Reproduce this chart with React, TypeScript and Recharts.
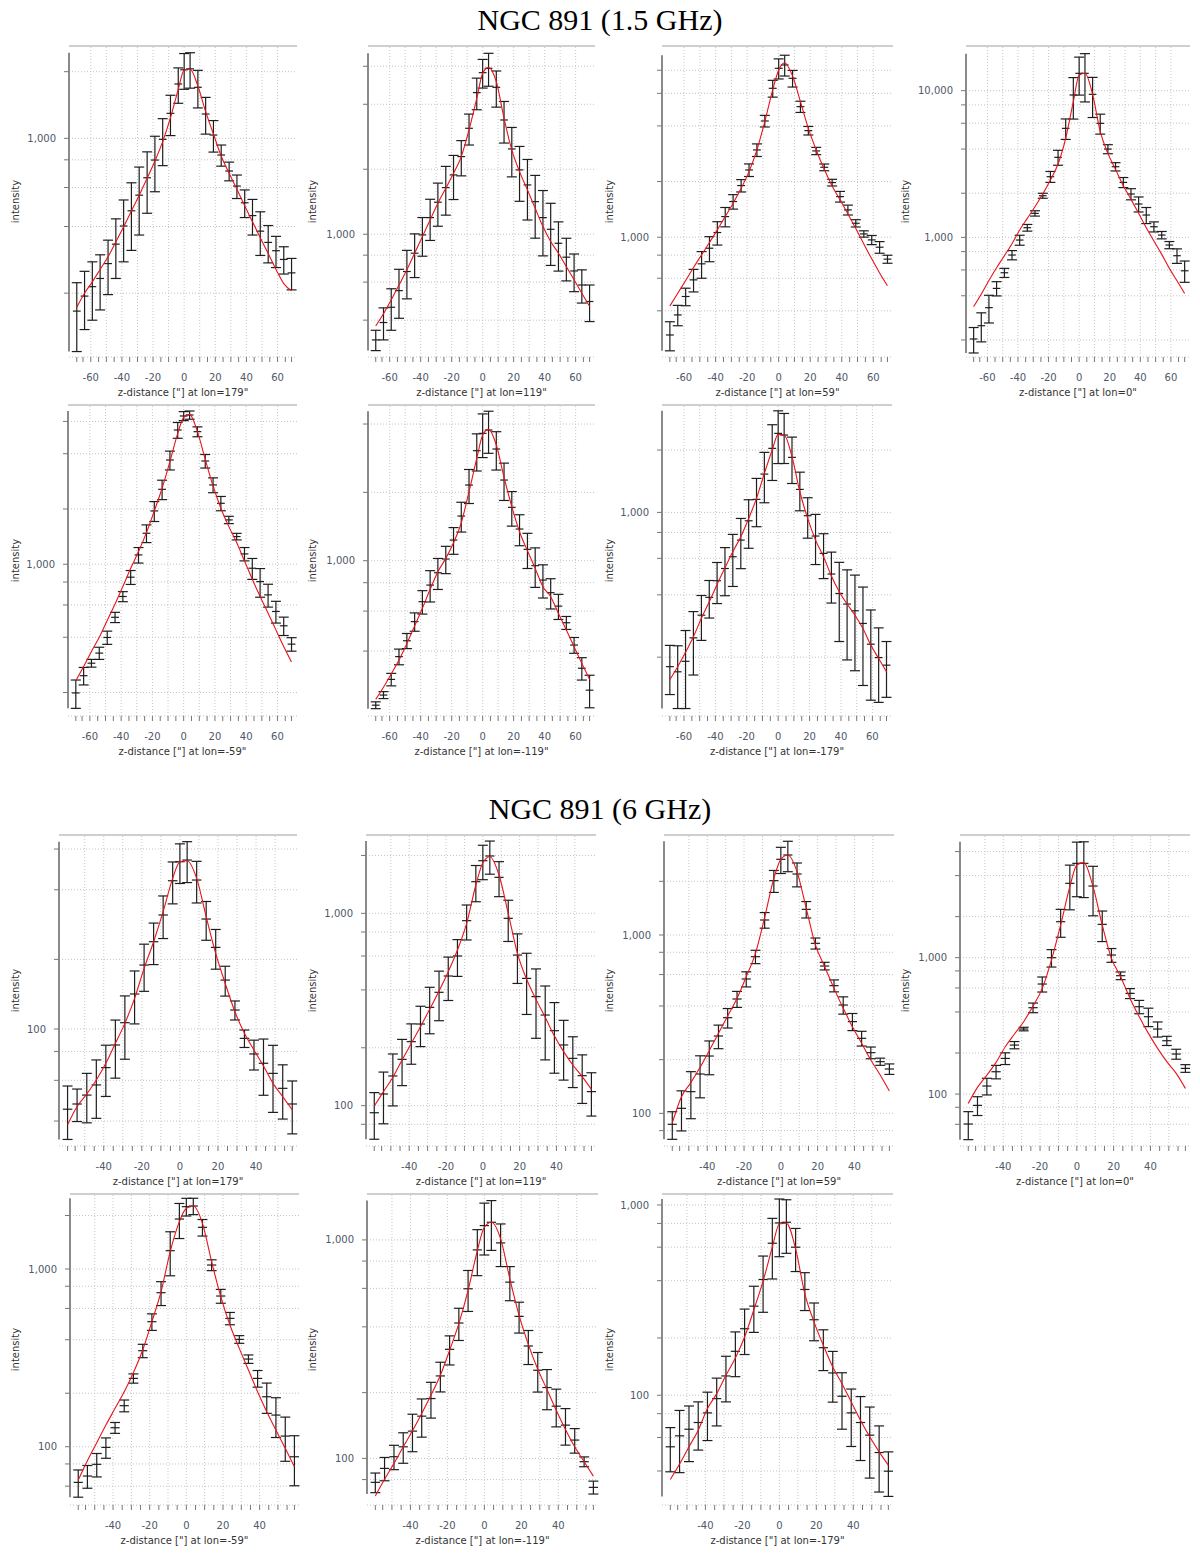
import React from "react";
import {
  ComposedChart,
  Scatter,
  Line,
  XAxis,
  YAxis,
  CartesianGrid,
  ErrorBar,
  ReferenceLine,
} from "recharts";

const FONT = "DejaVu Sans, sans-serif";

// bin centres along z (arcsec)
const Z_L = [-69, -64, -59, -54, -48.9, -43.9, -38.9, -33.9, -28.9, -23.8, -18.8, -13.8, -8.8, -3.8, 0, 3.8, 8.8, 13.8, 18.8, 23.8, 28.9, 33.9, 38.9, 43.9, 48.9, 54, 59, 64, 69];
const Z_C = [-59, -54, -48.9, -43.9, -38.9, -33.9, -28.9, -23.8, -18.8, -13.8, -8.8, -3.8, 0, 3.8, 8.8, 13.8, 18.8, 23.8, 28.9, 33.9, 38.9, 43.9, 48.9, 54, 59];
const HALF_BIN = 2.5;

// ---- 1.5 GHz ----
const L179_I = [166, 194, 214, 233, 272, 333, 402, 471, 554, 664, 798, 990, 1297, 1760, 2040, 2060, 1700, 1288, 1035, 841, 712, 609, 512, 448, 381, 339, 311, 284, 247];
const L179_E = [57, 57, 63, 65, 75, 100, 125, 159, 188, 205, 224, 237, 268, 320, 375, 375, 328, 243, 168, 92, 69, 74, 73, 82, 85, 65, 50, 40, 40];
const L179_FIT = [173, 200, 225, 256, 292, 341, 399, 470, 554, 660, 790, 966, 1240, 1665, 2036, 2051, 1723, 1320, 1046, 832, 695, 589, 496, 420, 356, 302, 256, 221, 205];

const L119_I = [324, 390, 459, 548, 672, 817, 993, 1194, 1407, 1644, 1883, 2289, 3096, 4529, 5604, 5868, 4792, 3383, 2484, 1986, 1692, 1416, 1194, 1054, 908, 783, 676, 582, 488];
const L119_E = [35, 66, 100, 140, 170, 187, 202, 258, 318, 418, 435, 425, 506, 756, 850, 1020, 912, 738, 640, 565, 528, 457, 400, 337, 233, 175, 134, 102, 94];
const L119_FIT = [376, 428, 497, 582, 684, 817, 975, 1165, 1392, 1633, 1916, 2289, 3041, 4264, 5564, 5932, 5091, 3443, 2457, 1950, 1605, 1319, 1085, 925, 817, 708, 615, 533, 463];

const L59_I = [296, 380, 478, 588, 718, 872, 1060, 1293, 1559, 1903, 2311, 2965, 4254, 6389, 8196, 8544, 7236, 5084, 3772, 2929, 2389, 1975, 1659, 1405, 1190, 1042, 967, 883, 761];
const L59_E = [53, 48, 52, 82, 118, 135, 153, 155, 140, 146, 181, 232, 307, 665, 1020, 1100, 746, 354, 200, 133, 100, 82, 110, 86, 54, 41, 55, 64, 38];
const L59_FIT = [425, 498, 583, 686, 803, 936, 1096, 1293, 1527, 1840, 2264, 2965, 4220, 6258, 8026, 8790, 7450, 5410, 3882, 2965, 2332, 1895, 1592, 1337, 1114, 920, 764, 641, 546];

const L0_I = [203, 250, 332, 449, 574, 758, 959, 1164, 1458, 1923, 2592, 3512, 5535, 9343, 13130, 13130, 9441, 5986, 4000, 3033, 2371, 1975, 1688, 1420, 1182, 1037, 887, 750, 592];
const L0_E = [40, 56, 71, 50, 41, 55, 75, 61, 61, 75, 222, 410, 883, 2940, 3800, 4750, 2880, 930, 283, 197, 187, 172, 198, 178, 93, 60, 50, 85, 98];
const L0_FIT = [337, 411, 509, 621, 750, 906, 1122, 1348, 1618, 1975, 2460, 3162, 4732, 8414, 12790, 13130, 9441, 5254, 3738, 2908, 2251, 1816, 1458, 1164, 944, 766, 615, 506, 415];

const LM59_I = [199, 247, 289, 328, 399, 514, 667, 850, 1124, 1475, 1952, 2559, 3698, 5387, 6422, 6502, 5276, 3652, 2704, 2148, 1744, 1415, 1138, 951, 804, 681, 553, 462, 367];
const LM59_E = [35, 27, 14, 25, 33, 33, 42, 74, 109, 163, 243, 310, 435, 532, 362, 335, 328, 309, 251, 192, 80, 58, 95, 124, 143, 97, 75, 53, 31];
const LM59_FIT = [232, 277, 335, 400, 494, 608, 756, 951, 1172, 1487, 1952, 2594, 3622, 5167, 6310, 6557, 5276, 3729, 2670, 2018, 1603, 1312, 1042, 829, 667, 541, 439, 356, 293];

const LM119_I = [231, 256, 300, 378, 444, 539, 660, 781, 885, 1017, 1233, 1573, 2154, 3052, 3639, 3763, 3104, 2266, 1718, 1379, 1122, 951, 822, 723, 631, 533, 425, 336, 269];
const LM119_E = [8, 9, 19, 30, 34, 50, 78, 123, 138, 140, 166, 236, 368, 568, 793, 791, 596, 424, 298, 215, 198, 188, 137, 110, 80, 35, 34, 38, 44];
const LM119_FIT = [245, 277, 317, 365, 432, 516, 617, 748, 894, 1024, 1200, 1470, 2014, 2824, 3577, 3789, 3232, 2329, 1730, 1342, 1107, 925, 768, 694, 586, 495, 418, 353, 300];

const LM179_I = [180, 170, 191, 248, 319, 389, 468, 536, 611, 735, 911, 1156, 1531, 2038, 2407, 2363, 1844, 1291, 964, 769, 634, 504, 406, 361, 335, 291, 231, 199, 183];
const LM179_E = [48, 57, 78, 84, 78, 80, 105, 140, 172, 200, 240, 303, 418, 612, 686, 641, 465, 273, 213, 209, 155, 139, 168, 167, 163, 145, 107, 78, 55];
const LM179_FIT = [156, 180, 211, 251, 308, 370, 449, 540, 646, 763, 935, 1168, 1543, 2001, 2381, 2363, 1858, 1258, 935, 735, 611, 493, 414, 361, 319, 275, 229, 197, 170];

// ---- 6 GHz ----
const C179_I = [45, 47.4, 51.8, 57.3, 68.1, 85.3, 106.5, 141.7, 189.1, 238.5, 311.1, 437.6, 528.8, 537.7, 440.7, 298.9, 225.4, 162.8, 120.8, 91.1, 78, 71.1, 64.3, 55.4, 47.4];
const C179_E = [11.7, 7.6, 12.5, 16.2, 17, 24, 32.5, 36.5, 43.6, 48.6, 65, 90, 103, 108, 90, 57, 44, 24, 11.4, 7.9, 11.5, 19.4, 20.7, 14.6, 12.2];
const C179_FIT = [38.5, 46.2, 52.4, 60.2, 71.1, 86.7, 105.8, 135.7, 182.9, 238.5, 321.6, 448, 528.8, 534.2, 448, 305.9, 212.4, 157.5, 118.8, 95.8, 81.1, 69.2, 58.2, 51, 44.7];

const C119_I = [91.9, 115, 142.7, 174.1, 215.2, 265.8, 324.5, 388.5, 472.3, 600.1, 916.1, 1461, 1878, 1987, 1539, 942, 607, 459, 369, 296, 245.5, 206.8, 176.2, 143.2, 118.3];
const C119_E = [25, 34.5, 43, 47, 51, 63, 88, 112, 120, 130, 189, 312, 382, 389, 318, 228, 175, 161, 145, 123, 98, 71, 52, 40.5, 30];
const C119_FIT = [99.6, 118.3, 140.4, 172.7, 210.9, 257.4, 316.9, 394.7, 497.4, 644.7, 887, 1404, 1834, 1971, 1582, 1000, 619, 454, 357, 288, 230.2, 190.9, 162.7, 141.6, 121.6];

const C59_I = [86.8, 106.7, 132.3, 166.2, 209.6, 271.4, 343.9, 437.7, 566.6, 755.9, 1214, 2017, 2657, 2809, 2198, 1393, 898, 670, 520, 405, 327, 263.4, 218.9, 194.9, 177.3];
const C59_E = [15.3, 27, 39, 44, 45, 41, 43, 45, 55, 65, 122, 284, 445, 545, 336, 147, 64, 33, 40, 45, 36, 25, 16.5, 9, 12];
const C59_FIT = [88.3, 124, 148.6, 181.1, 224.5, 280.9, 351.4, 441.5, 584, 789.2, 1256, 2078, 2657, 2809, 2265, 1411, 879, 665, 502, 388, 306, 247, 199.1, 164.1, 133.4];

const C0_I = [60.3, 82.6, 114.5, 145.8, 182.6, 228.7, 299.8, 429.9, 641, 1000, 1837, 3510, 4920, 4920, 3354, 1756, 1046, 738, 547.4, 437.2, 369.2, 299.8, 246.1, 196.6, 154.3];
const C0_E = [14, 13, 16, 16.5, 18, 14, 9, 35, 81, 146, 425, 1265, 2120, 2160, 1325, 443, 121, 48, 46, 49, 57, 38, 19, 16.5, 10];
const C0_FIT = [85.4, 111.9, 137.8, 170.8, 222.4, 275.5, 339.4, 442.1, 595.9, 961, 1737, 3317, 4783, 4976, 3317, 1737, 989, 725.5, 503, 369.2, 278.6, 216.3, 172.7, 141.8, 110];

const CM59_I = [63, 68.4, 79.6, 99.1, 127.9, 170.2, 242.4, 347, 505.3, 735.8, 1268, 1911, 2243, 2262, 1716, 1053, 704.7, 527.6, 401.8, 311.4, 242.4, 191.1, 150.7, 114.8, 87.8];
const CM59_E = [11, 10, 12, 13, 9, 13, 14.5, 30, 54, 113, 352, 427, 256, 239, 183, 74, 63, 42, 20, 17, 26, 37, 38, 32, 27.5];
const CM59_FIT = [64.9, 83.4, 105.3, 132.4, 164.4, 204, 261, 350, 505.3, 745, 1252, 1847, 2196, 2262, 1807, 1100, 698.6, 484, 357.7, 270.1, 204, 157.4, 124.1, 97.9, 77.2];

const CM119_I = [77.7, 90, 101.8, 113, 133.3, 156.1, 187.9, 238.5, 315.7, 416.5, 597.5, 900, 1163, 1204, 969, 640.8, 446.6, 326.9, 253.2, 211, 173.4, 142, 121.3, 96.6, 73.7];
const CM119_E = [8, 11, 13, 18, 26, 31, 35, 37, 48, 70, 127, 214, 310, 309, 214, 114, 72, 58, 52, 44, 34, 27, 15.6, 5, 5];
const CM119_FIT = [67.3, 80.2, 94.9, 113, 133.8, 160.6, 194.6, 240.2, 312.4, 413.5, 587.1, 894, 1142, 1204, 1011, 663.6, 451.4, 332.7, 255.8, 206.6, 166.2, 135.7, 113, 96.6, 83];

const CM179_I = [53.6, 61.2, 66.3, 71.9, 80.8, 96, 126.3, 170.2, 223.7, 294, 405.9, 629.4, 804.7, 811.1, 599.8, 359.7, 249.4, 177.8, 131, 98.8, 80.8, 71.9, 61.7, 50, 39.9];
const CM179_E = [14, 22, 21.5, 20.4, 23, 27, 34, 45, 60, 80, 133, 221, 270, 254, 153, 81, 56, 43, 39, 32.5, 27, 26.5, 25, 19, 10.5];
const CM179_FIT = [36.1, 43.5, 53.6, 65.5, 85.1, 102, 127.3, 157, 202.3, 281.3, 397.9, 599.8, 795, 801.4, 587.9, 341.4, 242.4, 182.9, 140.8, 115.1, 92.3, 73.9, 60.5, 50.4, 42.9];

// axis ticks
const X_TICKS_L = [-69, -65, -60, -55, -50, -45, -40, -35, -30, -25, -20, -15, -10, -5, 0, 5, 10, 15, 20, 25, 30, 35, 40, 45, 50, 55, 60, 65, 69];
const X_TICKS_C = [-59, -55, -50, -45, -40, -35, -30, -25, -20, -15, -10, -5, 0, 5, 10, 15, 20, 25, 30, 35, 40, 45, 50, 55, 59];
const X_GRID_L = [-60, -50, -40, -30, -20, -10, 0, 10, 20, 30, 40, 50, 60];
const X_GRID_C = [-50, -40, -30, -20, -10, 0, 10, 20, 30, 40, 50];
const LOG_MANTISSA = [1, 2, 4, 6, 8];
const DECADES = [10, 100, 1000, 10000];

const BANDS = {
  L: { z: Z_L, domain: [-74, 72.5], ticks: X_TICKS_L, grid: X_GRID_L },
  C: { z: Z_C, domain: [-63.5, 61.5], ticks: X_TICKS_C, grid: X_GRID_C },
};

const COL_LEFT = [0, 297, 594, 890];
const PLOT_H = 311;
const XAXIS_H = 44;

type Panel = {
  band: "L" | "C";
  lon: string;
  v: number[];
  e: number[];
  fit: number[];
  yDom: [number, number];
  col: number;
  top: number;
  axis: number;
  right: number;
};

const PANELS: Panel[] = [
  { band: "L", lon: '179"', v: L179_I, e: L179_E, fit: L179_FIT, yDom: [103, 2612], col: 0, top: 46, axis: 69, right: 297 },
  { band: "L", lon: '119"', v: L119_I, e: L119_E, fit: L119_FIT, yDom: [270, 7447], col: 1, top: 46, axis: 368, right: 595 },
  { band: "L", lon: '59"', v: L59_I, e: L59_E, fit: L59_FIT, yDom: [225, 10820], col: 2, top: 46, axis: 662, right: 893 },
  { band: "L", lon: '0"', v: L0_I, e: L0_E, fit: L0_FIT, yDom: [153, 20160], col: 3, top: 46, axis: 966, right: 1190 },
  { band: "L", lon: '-59"', v: LM59_I, e: LM59_E, fit: LM59_FIT, yDom: [149, 7371], col: 0, top: 405, axis: 68, right: 297 },
  { band: "L", lon: '-119"', v: LM119_I, e: LM119_E, fit: LM119_FIT, yDom: [207, 4851], col: 1, top: 405, axis: 368, right: 595 },
  { band: "L", lon: '-179"', v: LM179_I, e: LM179_E, fit: LM179_FIT, yDom: [104, 3300], col: 2, top: 405, axis: 662, right: 892 },
  { band: "C", lon: '179"', v: C179_I, e: C179_E, fit: C179_FIT, yDom: [31.2, 690], col: 0, top: 835, axis: 59, right: 297 },
  { band: "C", lon: '119"', v: C119_I, e: C119_E, fit: C119_FIT, yDom: [61.7, 2555], col: 1, top: 835, axis: 366, right: 596 },
  { band: "C", lon: '59"', v: C59_I, e: C59_E, fit: C59_FIT, yDom: [65.6, 3637], col: 2, top: 835, axis: 664, right: 894 },
  { band: "C", lon: '0"', v: C0_I, e: C0_E, fit: C0_FIT, yDom: [41.6, 7940], col: 3, top: 835, axis: 960, right: 1190 },
  { band: "C", lon: '-59"', v: CM59_I, e: CM59_E, fit: CM59_FIT, yDom: [47, 2643], col: 0, top: 1194, axis: 70, right: 299 },
  { band: "C", lon: '-119"', v: CM119_I, e: CM119_E, fit: CM119_FIT, yDom: [61.2, 1622], col: 1, top: 1194, axis: 367, right: 598 },
  { band: "C", lon: '-179"', v: CM179_I, e: CM179_E, fit: CM179_FIT, yDom: [26.5, 1142], col: 2, top: 1194, axis: 662, right: 893 },
];

function yTitle(props: any) {
  const vb = props.viewBox || { x: 0, y: 0, height: 0 };
  const x = vb.x + 15;
  const y = vb.y + vb.height / 2;
  return (
    <text
      x={x}
      y={y}
      transform={`rotate(-90 ${x} ${y})`}
      textAnchor="middle"
      dominantBaseline="central"
      fontSize={10}
      fontFamily={FONT}
      fill="#333"
    >
      intensity
    </text>
  );
}

function ProfilePanel({ p }: { p: Panel }) {
  const band = BANDS[p.band];
  const rows = band.z.map((z, i) => ({ z, v: p.v[i], e: p.e[i], xe: HALF_BIN, fit: p.fit[i] }));
  const lo = Math.min(...rows.map((r) => r.v - r.e));
  const hi = Math.max(...rows.map((r) => r.v + r.e));
  const yTicks = DECADES.flatMap((d) => LOG_MANTISSA.map((m) => m * d)).filter((t) => t >= lo && t <= hi);
  const left = COL_LEFT[p.col];
  const width = p.right - left + 2;

  return (
    <div style={{ position: "absolute", left, top: p.top - 4 }}>
      <ComposedChart
        width={width}
        height={PLOT_H + XAXIS_H + 4}
        data={rows}
        margin={{ top: 4, right: 2, bottom: 0, left: 0 }}
      >
        <CartesianGrid vertical={false} stroke="#c2c2c2" strokeDasharray="1 2" />
        {band.grid.map((g) => (
          <ReferenceLine key={g} x={g} stroke="#c8c8c8" strokeDasharray="1 2" />
        ))}
        <ReferenceLine y={p.yDom[1]} stroke="#cfcfcf" strokeWidth={2} ifOverflow="visible" />
        <ReferenceLine
          segment={[
            { x: band.domain[0], y: lo },
            { x: band.domain[0], y: hi },
          ]}
          stroke="#8a8a8a"
          strokeWidth={2}
          ifOverflow="visible"
        />
        <XAxis
          type="number"
          dataKey="z"
          domain={band.domain}
          allowDataOverflow
          ticks={band.ticks}
          interval={0}
          tickFormatter={(t: number) => (t % 20 === 0 ? String(t) : "")}
          axisLine={false}
          tickLine={{ stroke: "#777" }}
          tickSize={5}
          tickMargin={12}
          height={XAXIS_H}
          tick={{ fill: "#4e5868", fontSize: 10, fontFamily: FONT }}
          label={{
            value: 'z-distance ["] at lon=' + p.lon,
            position: "insideBottom",
            offset: 5,
            fill: "#333",
            fontSize: 10,
            fontFamily: FONT,
          }}
        />
        <YAxis
          type="number"
          scale="log"
          domain={p.yDom}
          allowDataOverflow
          ticks={yTicks}
          interval={0}
          tickFormatter={(t: number) => (DECADES.includes(t) ? t.toLocaleString("en-US") : "")}
          axisLine={false}
          tickLine={{ stroke: "#777" }}
          tickSize={5}
          tickMargin={8}
          width={p.axis - left}
          tick={{ fill: "#4e5868", fontSize: 10, fontFamily: FONT }}
          label={yTitle}
        />
        <Scatter dataKey="v" isAnimationActive={false} shape={() => <g />}>
          <ErrorBar dataKey="e" direction="y" width={5} stroke="#1e1e1e" strokeWidth={1.2} isAnimationActive={false} />
          <ErrorBar dataKey="xe" direction="x" width={0} stroke="#1e1e1e" strokeWidth={1.2} isAnimationActive={false} />
        </Scatter>
        <Line
          dataKey="fit"
          type="monotone"
          stroke="#e8141b"
          strokeWidth={1.1}
          dot={false}
          activeDot={false}
          isAnimationActive={false}
        />
      </ComposedChart>
    </div>
  );
}

const titleStyle: React.CSSProperties = {
  position: "absolute",
  left: 0,
  width: 1200,
  textAlign: "center",
  fontFamily: "Liberation Serif, Times New Roman, serif",
  fontSize: 30,
  lineHeight: "34px",
  color: "#000",
};

export default function App() {
  return (
    <div
      style={{
        position: "absolute",
        left: 0,
        top: 0,
        width: 1200,
        height: 1553,
        background: "#fff",
        overflow: "hidden",
      }}
    >
      <div style={{ ...titleStyle, top: 3 }}>NGC 891 (1.5 GHz)</div>
      <div style={{ ...titleStyle, top: 792 }}>NGC 891 (6 GHz)</div>
      {PANELS.map((p) => (
        <ProfilePanel key={p.band + p.lon} p={p} />
      ))}
    </div>
  );
}
